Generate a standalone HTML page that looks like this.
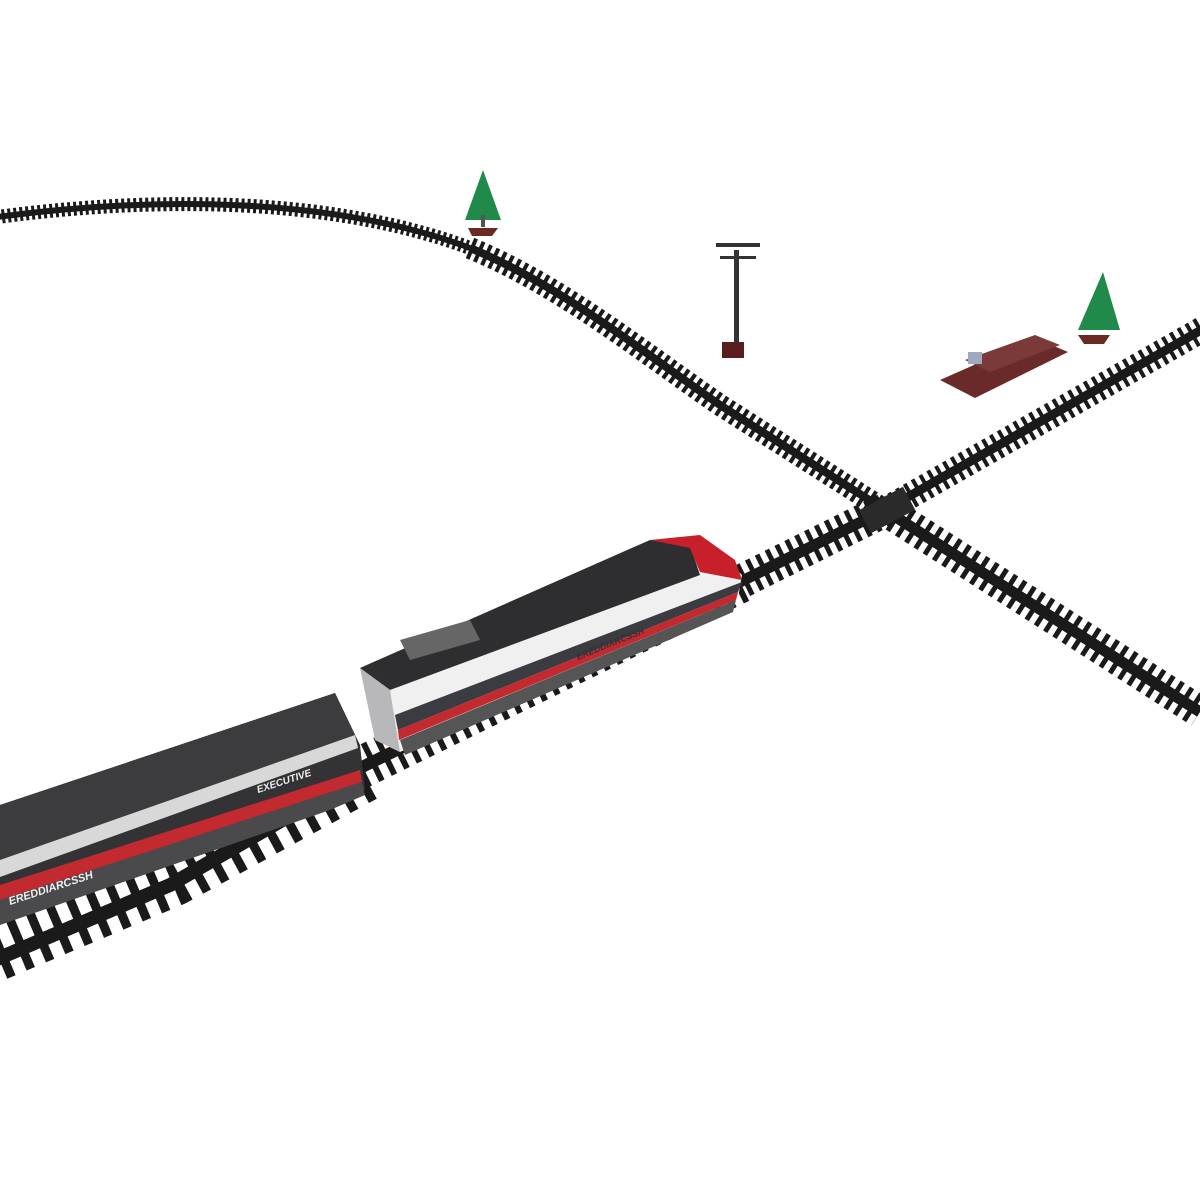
<!DOCTYPE html>
<html><head><meta charset="utf-8"><style>
html,body{margin:0;padding:0;background:#fff;width:1200px;height:1200px;overflow:hidden}
svg{display:block}
text{font-family:"Liberation Sans",sans-serif;font-style:italic;font-weight:bold}
</style></head><body>
<svg width="1200" height="1200" viewBox="0 0 1200 1200" xmlns="http://www.w3.org/2000/svg">
<rect width="1200" height="1200" fill="#fff"/>
<g fill="none" stroke="#1a1a1a">
 <path d="M-10 218 C150 196 330 196 470 248" stroke-width="14" stroke-dasharray="3 3"/>
 <path d="M-10 218 C150 196 330 196 470 248" stroke-width="6"/>
 <path d="M470 248 C560 285 640 350 720 405 L885 510" stroke-width="22" stroke-dasharray="4 4"/>
 <path d="M470 248 C560 285 640 350 720 405 L885 510" stroke-width="8"/>
 <path d="M885 510 L1200 712" stroke-width="32" stroke-dasharray="5 6"/>
 <path d="M885 510 L1200 712" stroke-width="11"/>
 <path d="M1210 325 L885 510" stroke-width="26" stroke-dasharray="4 5"/>
 <path d="M1210 325 L885 510" stroke-width="9"/>
 <path d="M885 510 L740 582" stroke-width="34" stroke-dasharray="5 6"/>
 <path d="M885 510 L740 582" stroke-width="11"/>
 <path d="M740 582 L360 768" stroke-width="42" stroke-dasharray="6 8"/>
 <path d="M740 582 L360 768" stroke-width="12"/>
 <path d="M360 768 L170 872 L-10 948" stroke-width="70" stroke-dasharray="9 12"/>
 <path d="M360 775 L170 885 L-10 962" stroke-width="14"/>
</g>
<rect x="862" y="497" width="50" height="26" fill="#2a2a2a" transform="rotate(-28 887 510)"/>
<polygon points="0,805 335,693 360,745 365,790 330,805 0,915" fill="#333335"/>
<polygon points="0,805 335,693 355,735 0,860" fill="#3c3c3e"/>
<polygon points="0,860 355,735 358,748 0,877" fill="#d8d8d8"/>
<polygon points="0,885 360,770 362,782 0,900" fill="#c22a2f"/>
<polygon points="0,900 362,782 365,795 330,810 0,925" fill="#4a4a4c"/>
<text x="10" y="905" font-size="11" fill="#eee" transform="rotate(-18 10 905)">EREDDIARCSSH</text>
<text x="258" y="793" font-size="10" fill="#eee" transform="rotate(-18 258 793)">EXECUTIVE</text>
<polygon points="360,668 650,540 700,535 742,575 738,598 400,752 375,740" fill="#f0f0f0"/>
<polygon points="360,668 650,540 690,545 700,575 390,690" fill="#2e2e30"/>
<polygon points="650,540 700,535 735,560 742,580 700,572 690,548" fill="#c8202a"/>
<polygon points="360,668 390,690 400,752 375,740" fill="#b8b8ba"/>
<polygon points="395,715 742,582 738,592 398,730" fill="#3b3b42"/>
<polygon points="398,730 738,592 736,600 399,740" fill="#c22a2f"/>
<polygon points="400,740 736,600 733,612 405,755" fill="#555"/>
<polygon points="400,640 470,620 480,640 410,660" fill="#666"/>
<text x="578" y="660" font-size="9" fill="#333" transform="rotate(-22 578 660)">EREDDIARCSSH</text>
<polygon points="468,228 498,228 492,236 472,236" fill="#6a2a22"/>
<polygon points="483,170 465,220 501,220" fill="#1f8a4a"/>
<rect x="481" y="215" width="4" height="12" fill="#555"/>
<polygon points="1078,335 1110,335 1104,344 1084,344" fill="#6a2a22"/>
<polygon points="1103,272 1078,330 1120,330" fill="#1f8a4a"/>
<rect x="734" y="250" width="5" height="95" fill="#333"/>
<rect x="716" y="243" width="44" height="4" fill="#333"/>
<rect x="720" y="256" width="36" height="3" fill="#333"/>
<rect x="722" y="342" width="22" height="16" fill="#5a1e1e"/>
<polygon points="940,380 1035,338 1068,352 975,398" fill="#6a2a2a"/>
<polygon points="965,360 1035,335 1060,345 990,372" fill="#7a3a3a"/>
<rect x="968" y="352" width="14" height="12" fill="#a0a8c0"/>
</svg>
</body></html>
